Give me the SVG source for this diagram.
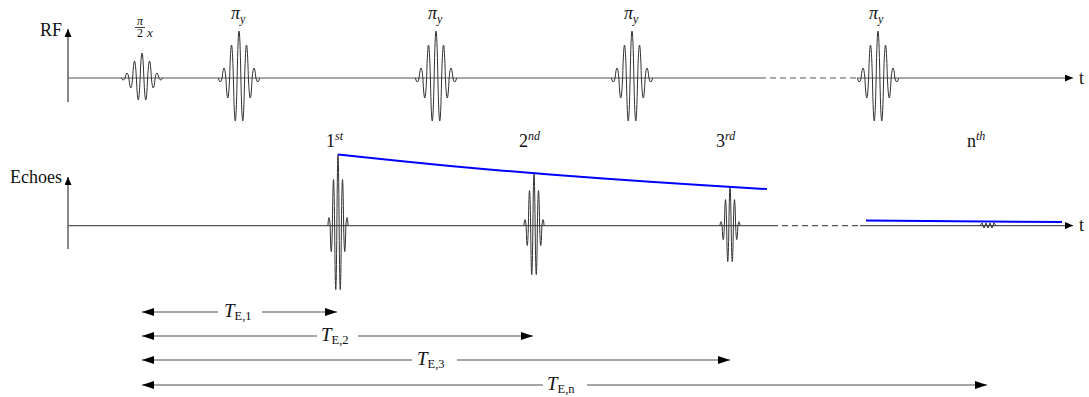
<svg xmlns="http://www.w3.org/2000/svg" width="1089" height="397" viewBox="0 0 1089 397">
<style>
.ax{stroke:#111;stroke-width:1;fill:none}
.base{stroke:#555;stroke-width:1.2;fill:none}
.dash{stroke-dasharray:6 4}
.pulse{stroke:#333;stroke-width:1;fill:none}
.te{stroke:#888;stroke-width:1.3;fill:none}
.env{stroke:#0000ff;stroke-width:2;fill:none}
text{font-family:"Liberation Serif","DejaVu Serif",serif;fill:#111}
.lbl{font-size:18px}
.pi{font-size:18px;font-style:italic}
.tel{font-size:19px;font-style:italic}
.it{font-style:italic}
.sup{font-size:12px;font-style:italic}
.sub{font-size:12px}
.tsub{font-size:12.5px;font-style:normal}
</style>
<defs>
<marker id="ah" viewBox="0 0 12 8" refX="12" refY="4" markerWidth="12" markerHeight="8" orient="auto-start-reverse" markerUnits="userSpaceOnUse"><path d="M0,0 L12,4 L0,8 z" fill="#000"/></marker>
<marker id="axh" viewBox="0 0 8 7" refX="8" refY="3.5" markerWidth="8" markerHeight="7" orient="auto" markerUnits="userSpaceOnUse"><path d="M0,0 L8,3.5 L0,7 z" fill="#000"/></marker>
<path id="pipulse" d="M-20.625 0 Q-18.75 8 -16.875 0 Q-15 -20 -13.125 0 Q-11.25 40 -9.375 0 Q-7.5 -66 -5.625 0 Q-3.75 86 -1.875 0 Q0 -94 1.875 0 Q3.75 86 5.625 0 Q7.5 -66 9.375 0 Q11.25 40 13.125 0 Q15 -20 16.875 0 Q18.75 8 20.625 0"/>
</defs>

<g id="connectors">
<line class="ax" x1="68" y1="102" x2="68" y2="29" marker-end="url(#axh)"/>
<line class="base" x1="68" y1="78" x2="760" y2="78"/>
<line class="base dash" x1="760" y1="78" x2="857" y2="78"/>
<line class="base" x1="857" y1="78" x2="1073" y2="78" marker-end="url(#axh)"/>
<line class="ax" x1="68" y1="249" x2="68" y2="177" marker-end="url(#axh)"/>
<line class="base" x1="68" y1="225.6" x2="772" y2="225.6"/>
<line class="base dash" x1="772" y1="225.6" x2="860" y2="225.6"/>
<line class="base" x1="860" y1="225.6" x2="1073" y2="225.6" marker-end="url(#axh)"/>
<line class="te" x1="142" y1="312" x2="218" y2="312" marker-start="url(#ah)"/>
<line class="te" x1="262" y1="312" x2="337" y2="312" marker-end="url(#ah)"/>
<line class="te" x1="142" y1="336" x2="317" y2="336" marker-start="url(#ah)"/>
<line class="te" x1="358" y1="336" x2="533" y2="336" marker-end="url(#ah)"/>
<line class="te" x1="142" y1="360" x2="412" y2="360" marker-start="url(#ah)"/>
<line class="te" x1="457" y1="360" x2="730" y2="360" marker-end="url(#ah)"/>
<line class="te" x1="142" y1="385" x2="543" y2="385" marker-start="url(#ah)"/>
<line class="te" x1="587" y1="385" x2="987" y2="385" marker-end="url(#ah)"/>
</g>

<g id="axis-labels">
<text class="lbl" x="62" y="36" text-anchor="end">RF</text>
<text class="lbl" x="62" y="183" text-anchor="end">Echoes</text>
<text class="lbl" x="1079" y="84">t</text>
<text class="lbl" x="1079" y="231">t</text>
</g>

<g id="rf-pulse-half">
<path class="pulse" transform="translate(142,78)" d="M-20.625 0 Q-18.75 4 -16.875 0 Q-15 -10 -13.125 0 Q-11.25 20 -9.375 0 Q-7.5 -34 -5.625 0 Q-3.75 44 -1.875 0 Q0 -50 1.875 0 Q3.75 44 5.625 0 Q7.5 -34 9.375 0 Q11.25 20 13.125 0 Q15 -10 16.875 0 Q18.75 4 20.625 0"/>
<text x="140" y="25" font-size="12" text-anchor="middle" class="it">π</text>
<line x1="135" y1="27.5" x2="145" y2="27.5" stroke="#111" stroke-width="0.8"/>
<text x="140" y="37" font-size="12" text-anchor="middle">2</text>
<text x="147" y="37" font-size="13" class="it">x</text>
</g>

<g id="rf-pulse-pi-1">
<use href="#pipulse" class="pulse" transform="translate(239,78)"/>
<text class="pi" x="231" y="19">π<tspan class="sub" dy="4">y</tspan></text>
</g>
<g id="rf-pulse-pi-2">
<use href="#pipulse" class="pulse" transform="translate(436,78)"/>
<text class="pi" x="428" y="19">π<tspan class="sub" dy="4">y</tspan></text>
</g>
<g id="rf-pulse-pi-3">
<use href="#pipulse" class="pulse" transform="translate(632,78)"/>
<text class="pi" x="624" y="19">π<tspan class="sub" dy="4">y</tspan></text>
</g>
<g id="rf-pulse-pi-n">
<use href="#pipulse" class="pulse" transform="translate(878,78)"/>
<text class="pi" x="869" y="19">π<tspan class="sub" dy="4">y</tspan></text>
</g>

<g id="echo-1">
<path class="pulse" transform="translate(338,225.6)" d="M-10.125 0 Q-9 -16 -7.875 0 Q-6.75 52 -5.625 0 Q-4.5 -92 -3.375 0 Q-2.25 128 -1.125 0 Q0 -142 1.125 0 Q2.25 128 3.375 0 Q4.5 -92 5.625 0 Q6.75 52 7.875 0 Q9 -16 10.125 0"/>
<text class="lbl" x="326" y="147">1<tspan class="sup" dy="-7">st</tspan></text>
</g>
<g id="echo-2">
<path class="pulse" transform="translate(534,225.6)" d="M-10.125 0 Q-9 -12 -7.875 0 Q-6.75 40 -5.625 0 Q-4.5 -70 -3.375 0 Q-2.25 98 -1.125 0 Q0 -104 1.125 0 Q2.25 98 3.375 0 Q4.5 -70 5.625 0 Q6.75 40 7.875 0 Q9 -12 10.125 0"/>
<text class="lbl" x="519" y="147">2<tspan class="sup" dy="-7">nd</tspan></text>
</g>
<g id="echo-3">
<path class="pulse" transform="translate(730,225.6)" d="M-10.125 0 Q-9 -8 -7.875 0 Q-6.75 28 -5.625 0 Q-4.5 -52 -3.375 0 Q-2.25 72 -1.125 0 Q0 -76 1.125 0 Q2.25 72 3.375 0 Q4.5 -52 5.625 0 Q6.75 28 7.875 0 Q9 -8 10.125 0"/>
<text class="lbl" x="716" y="147">3<tspan class="sup" dy="-7">rd</tspan></text>
</g>
<g id="echo-n">
<polyline class="pulse" points="980,225.6 982,223 984,228 986,223 988,228 990,223 992,228 994,223 996,225.6"/>
<text class="lbl" x="967" y="147">n<tspan class="sup" dy="-7">th</tspan></text>
</g>

<g id="envelope">
<polyline class="env" points="338,154.6 400,161.1 450,165.9 500,170.4 550,174.5 600,178.3 650,181.8 700,185.1 767,189.1"/>
<line class="env" x1="866" y1="220.5" x2="1062" y2="222"/>
</g>

<g id="te-labels">
<text class="tel" x="224" y="317">T<tspan class="tsub" dy="3">E,1</tspan></text>
<text class="tel" x="321" y="341">T<tspan class="tsub" dy="3">E,2</tspan></text>
<text class="tel" x="417" y="365">T<tspan class="tsub" dy="3">E,3</tspan></text>
<text class="tel" x="547" y="390">T<tspan class="tsub" dy="3">E,n</tspan></text>
</g>
</svg>
